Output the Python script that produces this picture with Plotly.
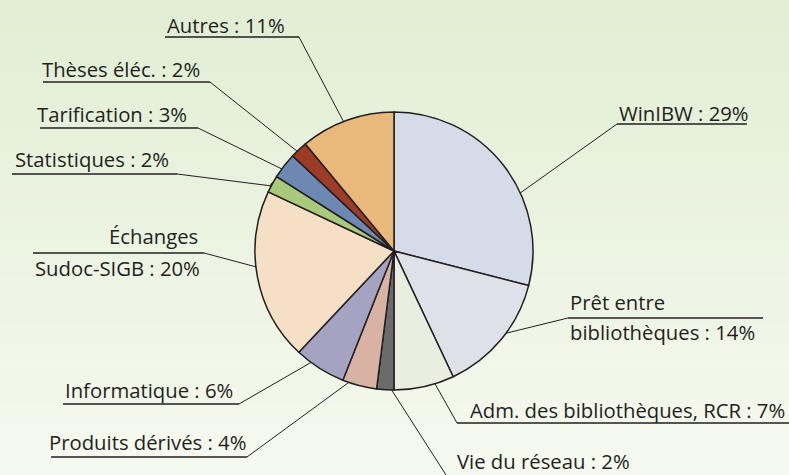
import math
import plotly.graph_objects as go

# ---- data ----
categories = ["WinIBW", "Prêt entre bibliothèques", "Adm. des bibliothèques, RCR",
              "Vie du réseau", "Produits dérivés", "Informatique",
              "Échanges Sudoc-SIGB", "Statistiques", "Tarification",
              "Thèses éléc.", "Autres"]
values = [29, 14, 7, 2, 4, 6, 20, 2, 3, 2, 11]
label_texts = [["WinIBW : 29%"],
               ["Prêt entre", "bibliothèques : 14%"],
               ["Adm. des bibliothèques, RCR : 7%"],
               ["Vie du réseau : 2%"],
               ["Produits dérivés : 4%"],
               ["Informatique : 6%"],
               ["Échanges", "Sudoc-SIGB : 20%"],
               ["Statistiques : 2%"],
               ["Tarification : 3%"],
               ["Thèses éléc. : 2%"],
               ["Autres : 11%"]]

# ---- style ----
colors = ["#d6dbea", "#e0e1e8", "#e9eee0", "#6b6b6b", "#d8b3a3", "#a4a3c2",
          "#f5dfc5", "#a8c87c", "#6d88b2", "#9c3c27", "#e9b97c"]
W, H = 789, 475
cx, cy, R = 394, 251, 139
# position of the dot inside each slice (fraction of slice angle, fraction of radius)
dot_afrac = [0.64, 0.56, 0.35, 0.36, 0.64, 0.57, 0.52, 0.44, 0.40, 0.47, 0.48]
dot_rfrac = [0.88, 0.92, 0.94, 0.96, 0.94, 0.90, 0.89, 0.98, 0.95, 0.91, 0.90]
# label layout: list of (x, baseline) per line, underline (x0, x1, y), attach point
label_lines = [[(617, 120)], [(568, 309), (568, 339)], [(468, 417)], [(455, 468)],
               [(47, 449)], [(63, 397)], [(107, 243), (33, 275)], [(13, 166)],
               [(35, 121)], [(40, 76)], [(165, 32)]]
underlines = [(617, 747, 124), (568, 763, 318), (457, 789, 423), (448, 789, 478),
              (51, 247, 457), (63, 239, 404), (33, 204, 253), (12, 177, 174),
              (40, 198, 128), (43, 210, 82), (165, 299, 37)]
attach = [(617, 124), (568, 318), (457, 423), (448, 478), (247, 457), (239, 404),
          (204, 253), (177, 174), (198, 128), (210, 82), (299, 37)]
FONT = "Open Sans"
FS = 20.3
TXT = "#231f20"

fig = go.Figure()

# background gradient
top = (0xe1, 0xee, 0xd4)
bot = (0xf6, 0xf9, 0xef)
N = 60
shapes = []
for i in range(N):
    t = i / (N - 1)
    c = tuple(round(top[k] + (bot[k] - top[k]) * t) for k in range(3))
    shapes.append(dict(type="rect", xref="paper", yref="paper", x0=0, x1=1,
                       y0=1 - (i + 1) / N - 0.002, y1=1 - i / N,
                       fillcolor="rgb(%d,%d,%d)" % c, line=dict(width=0), layer="below"))

fig.add_trace(go.Pie(
    labels=categories, values=values, sort=False, direction="clockwise", rotation=0,
    marker=dict(colors=colors, line=dict(color="#231f20", width=1.5)),
    textinfo="none", hoverinfo="label+percent", showlegend=False,
    domain=dict(x=[(cx - R) / W, (cx + R) / W], y=[1 - (cy + R) / H, 1 - (cy - R) / H]),
))

total = sum(values)
cum = 0
dots_x, dots_y = [], []
annotations = []
for i, v in enumerate(values):
    a = (cum + v * dot_afrac[i]) / total * 2 * math.pi
    cum += v
    dx = cx + R * dot_rfrac[i] * math.sin(a)
    dy = cy - R * dot_rfrac[i] * math.cos(a)
    dots_x.append(dx)
    dots_y.append(dy)
    ux0, ux1, uy = underlines[i]
    ax, ay = attach[i]
    fig.add_trace(go.Scatter(x=[ux0, ux1], y=[uy, uy], mode="lines",
                             line=dict(color="#231f20", width=1.6),
                             hoverinfo="skip", showlegend=False))
    fig.add_trace(go.Scatter(x=[ax, dx], y=[ay, dy], mode="lines",
                             line=dict(color="#231f20", width=1),
                             hoverinfo="skip", showlegend=False))
    for txt, (tx, tb) in zip(label_texts[i], label_lines[i]):
        annotations.append(dict(x=tx, y=tb - 7, xref="x", yref="y", text=txt,
                                showarrow=False, xanchor="left", yanchor="middle",
                                font=dict(family=FONT, size=FS, color=TXT)))

fig.add_trace(go.Scatter(x=dots_x, y=dots_y, mode="markers",
                         marker=dict(color="#1a1a1a", size=8),
                         hoverinfo="skip", showlegend=False))

fig.update_layout(
    width=W, height=H, margin=dict(l=0, r=0, t=0, b=0),
    paper_bgcolor="#eef5e4", plot_bgcolor="rgba(0,0,0,0)",
    xaxis=dict(range=[0, W], visible=False, fixedrange=True),
    yaxis=dict(range=[H, 0], visible=False, fixedrange=True),
    shapes=shapes, annotations=annotations,
)

fig.write_html("out.html", config={"displayModeBar": False},
               post_script="document.body.style.margin='0';")
